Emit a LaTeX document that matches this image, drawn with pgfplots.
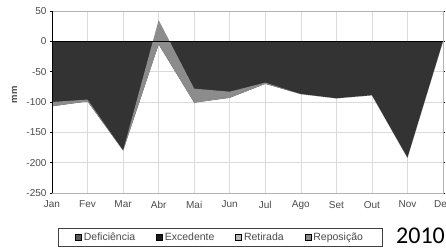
\documentclass[border=0pt]{standalone}
\usepackage{pgfplots}
\pgfplotsset{compat=1.18}
\usepgfplotslibrary{fillbetween}
\usepackage{fontspec}
\setmainfont{Liberation Sans}
\newfontfamily\calib{Carlito}
\definecolor{darkfill}{HTML}{333333}
\definecolor{stripe}{HTML}{8C8C8C}
\definecolor{gridc}{HTML}{DADADA}
\definecolor{framec}{HTML}{B4B4B4}
\definecolor{tickc}{HTML}{4A4A4A}
\definecolor{defc}{HTML}{5A5A5A}
\definecolor{excc}{HTML}{1A1A1A}
\definecolor{retc}{HTML}{B8B8B8}
\definecolor{repc}{HTML}{8A8A8A}
\begin{document}
\begin{tikzpicture}
\begin{axis}[
  at={(0pt,0pt)}, anchor=south west,
  scale only axis, width=391pt, height=182pt,
  xmin=0, xmax=11, ymin=-250, ymax=50,
  xtick={0,1,...,11},
  xticklabels={Jan,Fev,Mar,Abr,Mai,Jun,Jul,Ago,Set,Out,Nov,Dez},
  ytick={-250,-200,...,50},
  grid=major,
  grid style={color=gridc, line width=0.6pt},
  axis line style={color=framec, line width=1pt},
  tick align=outside,
  major tick length=2pt,
  xtick style={draw=none},
  ytick style={color=black, line width=0.8pt},
  /pgf/number format/assume math mode=true,
  ticklabel style={font=\fontsize{10}{11}\selectfont, text=tickc},
  xticklabel style={yshift=-2.5pt},
  yticklabel style={xshift=0pt},
  ylabel={mm},
  ylabel style={font=\fontsize{9.5}{10}\selectfont\bfseries, text=tickc, at={(axis description cs:-0.096,0.54)}, anchor=center},
  legend columns=4,
  legend style={at={(axis description cs:0.0153,-0.192)}, anchor=north west,
    draw=black!75, line width=0.6pt, fill=white,
    font=\fontsize{10.5}{11}\selectfont, text=tickc,
    inner xsep=17pt, inner ysep=2.5pt,
    /tikz/every even column/.append style={column sep=19pt}},
  legend image code/.code={\fill[#1] (0pt,-3pt) rectangle (6pt,3pt);},
]
\addplot[name path=L, draw=none, forget plot] coordinates {(0,-107)(1,-99)(2,-180)(3,-5)(4,-101)(5,-93)(6,-70)(7,-87)(8,-94)(9,-89)(10,-192)(11,0)};
\addplot[name path=U, draw=none, forget plot] coordinates {(0,-100)(1,-96)(2,-180)(3,35)(4,-78)(5,-83)(6,-68)(7,-87)(8,-94)(9,-89)(10,-192)(11,0)};
\addplot[name path=Z, draw=none, forget plot] coordinates {(0,0)(11,0)};
\addplot[fill=darkfill, draw=none, forget plot] fill between[of=Z and L];
\addplot[fill=stripe, draw=none, forget plot] fill between[of=U and L];
\addplot[black, line width=0.8pt, forget plot] coordinates {(0,0)(11,0)};
\addlegendimage{fill=defc}
\addlegendentry{Deficiência}
\addlegendimage{fill=excc}
\addlegendentry{Excedente}
\addlegendimage{fill=retc}
\addlegendentry{Retirada}
\addlegendimage{fill=repc}
\addlegendentry{Reposição}
\draw[black, line width=1.6pt] (rel axis cs:0,0) -- (rel axis cs:0,1);
\end{axis}
\node[anchor=base west, inner sep=0pt, font=\calib\fontsize{24}{26}\selectfont] at (344pt,-50pt) {2010};
\pgfresetboundingbox
\path[use as bounding box] (-52pt,-56pt) rectangle (394pt,193pt);
\end{tikzpicture}
\end{document}
